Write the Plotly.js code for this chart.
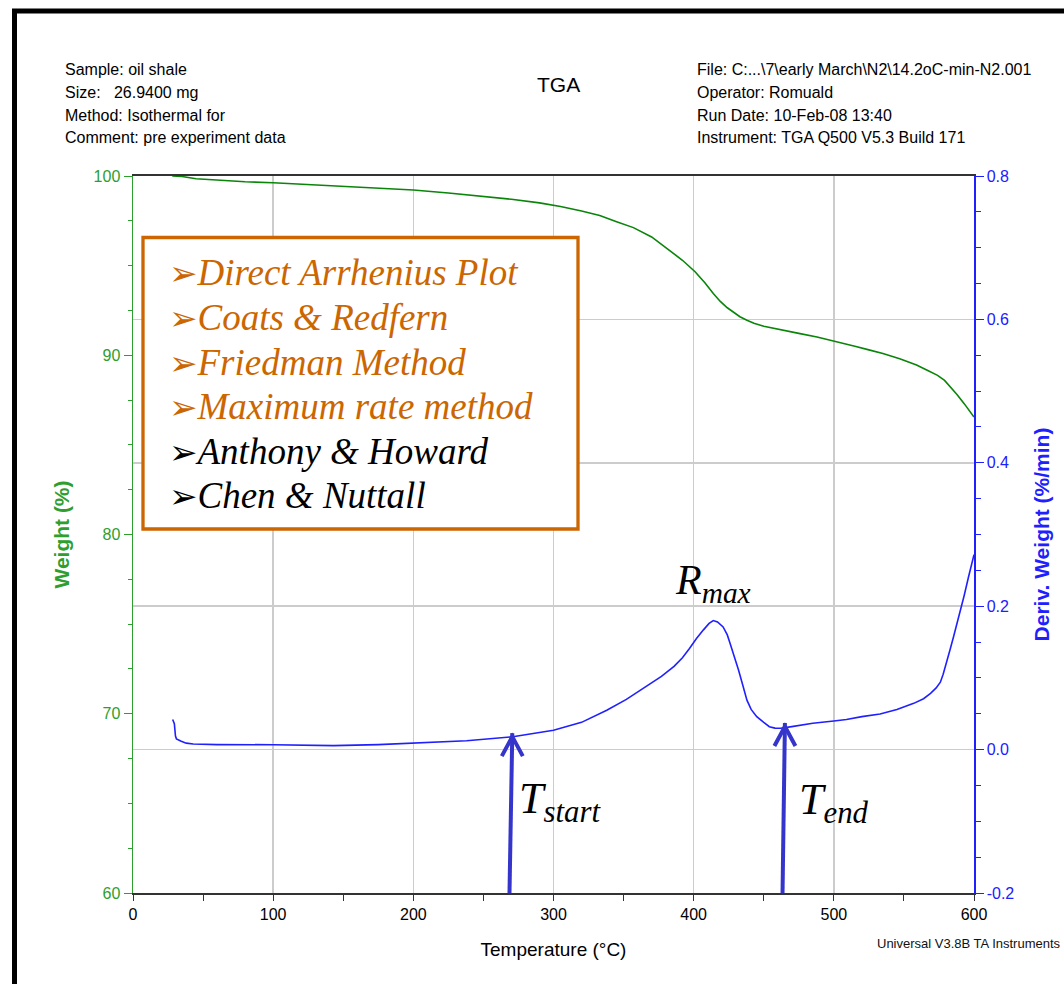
<!DOCTYPE html>
<html><head><meta charset="utf-8">
<script src="https://cdn.plot.ly/plotly-3.0.1.min.js"></script>
<style>html,body{margin:0;padding:0;background:#fff;}#chart{width:1064px;height:984px;}</style>
</head><body><div id="chart"></div>
<script>
// ---- data ----
const weightTemp = [28,35,45,60,80,100,125,150,175,200,225,250,270,290,305,320,333,345,357,370,381,392,401,408,414,419,424,429,433,438,443,450,457,464,475,488,501,515,525,535,547,559,567,574,579,583,588,593,597,600];
const weightPct  = [100.0,99.97,99.85,99.76,99.68,99.62,99.52,99.43,99.33,99.22,99.05,98.87,98.70,98.50,98.30,98.05,97.80,97.45,97.12,96.60,95.97,95.30,94.66,94.05,93.45,93.00,92.65,92.35,92.15,91.95,91.78,91.62,91.50,91.40,91.22,91.02,90.79,90.50,90.30,90.10,89.80,89.46,89.15,88.88,88.60,88.25,87.80,87.30,86.85,86.55];
const derivTemp = [28.3,29.5,30.3,31,34,38,43,60,100,143,175,200,238,271,300,320,338,352,366,377,386,392,397,402,407,411,414,417,421,424,426,429,432,435,438,441,445,450,454,458,462,470,485,500,509,520,533,545,557,564,569,573,576,578,580.5,583,585.5,588,590,593,596,598,600];
const derivVal  = [0.042,0.036,0.019,0.015,0.012,0.009,0.0078,0.007,0.0068,0.0055,0.007,0.0088,0.0124,0.018,0.027,0.038,0.055,0.070,0.088,0.102,0.116,0.128,0.141,0.155,0.167,0.176,0.180,0.178,0.171,0.160,0.148,0.130,0.111,0.090,0.069,0.056,0.046,0.038,0.032,0.030,0.0297,0.032,0.0367,0.040,0.042,0.046,0.0497,0.056,0.0645,0.071,0.0785,0.086,0.094,0.105,0.121,0.140,0.158,0.176,0.190,0.215,0.240,0.255,0.272];

const xTickVals  = [0,100,200,300,400,500,600];
const y1TickVals = [60,70,80,90,100];
const y2TickVals = [-0.2,0,0.2,0.4,0.6,0.8];
const y2TickText = ['-0.2','0.0','0.2','0.4','0.6','0.8'];

const headerLeft  = ['Sample: oil shale','Size:\u00a0\u00a0 26.9400 mg','Method: Isothermal for','Comment: pre experiment data'];
const headerRight = ['File: C:...\\7\\early March\\N2\\14.2oC-min-N2.001','Operator: Romuald','Run Date: 10-Feb-08 13:40','Instrument: TGA Q500 V5.3 Build 171'];
const methods      = ['Direct Arrhenius Plot','Coats & Redfern','Friedman Method','Maximum rate method','Anthony & Howard','Chen & Nuttall'];
const methodColors = ['#cc6600','#cc6600','#cc6600','#cc6600','#000000','#000000'];

// arrows: temperature of tip / tail, derivative value at tip
const arrowTipTemp  = [270.6, 465.1];
const arrowTailTemp = [268.6, 463.4];
const arrowTipDeriv = [0.023, 0.037];
const arrowTailDeriv = -0.2;

// ---- layout helpers (pixel -> paper) ----
const PL=133, PR=974, PT=176, PB=893;
const px = x => (x-PL)/(PR-PL);
const py = y => (PB-y)/(PB-PT);

const SANS = '"Liberation Sans", Arial, sans-serif';
const SERIF = '"Liberation Serif", "Times New Roman", serif';
const GREEN_AX = '#2e9e2e', GREEN_LINE = '#0a850a', BLUE = '#2020ff', ORANGE = '#cc6600', ARROW = '#3535cc';

const traces = [
  {x: weightTemp, y: weightPct, type:'scatter', mode:'lines', yaxis:'y', line:{color:GREEN_LINE, width:1.6}, hoverinfo:'skip', showlegend:false},
  {x: derivTemp, y: derivVal, type:'scatter', mode:'lines', yaxis:'y2', line:{color:BLUE, width:1.6}, hoverinfo:'skip', showlegend:false}
];

const annotations = [];
const headerY = [70, 93, 115.5, 138];
headerLeft.forEach((t,i)=>annotations.push({xref:'paper',yref:'paper',x:px(63),y:py(headerY[i]),xanchor:'left',yanchor:'middle',showarrow:false,text:t,font:{family:SANS,size:16,color:'#000'}}));
headerRight.forEach((t,i)=>annotations.push({xref:'paper',yref:'paper',x:px(695),y:py(headerY[i]),xanchor:'left',yanchor:'middle',showarrow:false,text:t,font:{family:SANS,size:16,color:'#000'}}));
annotations.push({xref:'paper',yref:'paper',x:px(558),y:py(84),xanchor:'center',yanchor:'middle',showarrow:false,text:'TGA',font:{family:SANS,size:21,color:'#000'}});
annotations.push({xref:'paper',yref:'paper',x:px(875),y:py(943),xanchor:'left',yanchor:'middle',showarrow:false,text:'Universal V3.8B TA Instruments',font:{family:SANS,size:13,color:'#111'}});

// method list inside the orange box
const methodBase = [285, 330, 375, 419.3, 464.3, 508.3];
methods.forEach((m,i)=>annotations.push({xref:'paper',yref:'paper',x:px(167),y:py(methodBase[i]-12.5),xanchor:'left',yanchor:'middle',showarrow:false,
  text:'<span style="font-family:DejaVu Sans;font-size:34px">\u27A2</span><i>'+m.replace(/&/g,'&amp;')+'</i>',
  font:{family:SERIF,size:37,color:methodColors[i]}}));

// R_max, T_start, T_end labels
annotations.push({xref:'paper',yref:'paper',x:px(673),y:py(583),xanchor:'left',yanchor:'middle',showarrow:false,text:'<i>R<sub>max</sub></i>',font:{family:SERIF,size:42,color:'#000'}});
annotations.push({xref:'paper',yref:'paper',x:px(517),y:py(801),xanchor:'left',yanchor:'middle',showarrow:false,text:'<i>T<sub>start</sub></i>',font:{family:SERIF,size:44,color:'#000'}});
annotations.push({xref:'paper',yref:'paper',x:px(797),y:py(802),xanchor:'left',yanchor:'middle',showarrow:false,text:'<i>T<sub>end</sub></i>',font:{family:SERIF,size:44,color:'#000'}});

const shapes = [
  // orange method box
  {type:'rect',xref:'paper',yref:'paper',x0:px(143),x1:px(578),y0:py(529),y1:py(237.5),line:{color:ORANGE,width:3.3},fillcolor:'#ffffff',layer:'above'},
  // black slide frame
  {type:'line',xref:'paper',yref:'paper',x0:px(12),x1:px(1064),y0:py(11),y1:py(11),line:{color:'#000',width:5}},
  {type:'line',xref:'paper',yref:'paper',x0:px(14.5),x1:px(14.5),y0:py(9),y1:py(984),line:{color:'#000',width:5}}
];
// arrows: shaft (data coords) + chevron head (pixel-sized, anchored at the tip)
arrowTipTemp.forEach((t,i)=>{
  shapes.push({type:'line',xref:'x',yref:'y2',x0:arrowTailTemp[i],y0:arrowTailDeriv,x1:t,y1:arrowTipDeriv[i],line:{color:ARROW,width:4},layer:'above'});
  shapes.push({type:'path',xref:'x',yref:'y2',xsizemode:'pixel',ysizemode:'pixel',xanchor:t,yanchor:arrowTipDeriv[i],
    path:'M -10.5,-23 L 0,-3.5 L 10.5,-23',line:{color:ARROW,width:4},layer:'above'});
});

const layout = {
  width:1064, height:984,
  margin:{l:PL, r:1064-PR, t:PT, b:984-PB},
  paper_bgcolor:'#fff', plot_bgcolor:'#fff',
  showlegend:false,
  xaxis:{range:[0,600], tickmode:'array', tickvals:xTickVals, ticks:'outside', ticklen:6, tickwidth:1, tickcolor:'#333',
    showline:true, linecolor:'#333', linewidth:2, mirror:true, showgrid:true, gridcolor:'#cccccc', gridwidth:1.5, zeroline:false,
    tickfont:{family:SANS,size:16,color:'#000'},
    minor:{tickmode:'linear', tick0:0, dtick:50, ticks:'outside', ticklen:6, tickcolor:'#333', showgrid:false},
    title:{text:'Temperature (°C)', font:{family:SANS,size:19,color:'#000'}, standoff:20}},
  yaxis:{range:[60,100], tickmode:'array', tickvals:y1TickVals, ticks:'outside', ticklen:8, tickcolor:GREEN_AX,
    showline:true, linecolor:GREEN_AX, linewidth:1.5, showgrid:false, zeroline:false,
    tickfont:{family:SANS,size:16,color:GREEN_AX},
    minor:{tickmode:'linear', tick0:60, dtick:2.5, ticks:'outside', ticklen:4, tickcolor:GREEN_AX, showgrid:false},
    title:{text:'<b>Weight (%)</b>', font:{family:SANS,size:21,color:GREEN_AX}, standoff:18}},
  yaxis2:{range:[-0.2,0.8], overlaying:'y', side:'right', tickmode:'array', tickvals:y2TickVals, ticktext:y2TickText,
    ticks:'outside', ticklen:8, tickcolor:BLUE, showline:true, linecolor:BLUE, linewidth:1.5,
    showgrid:true, gridcolor:'#cccccc', gridwidth:1.5, zeroline:false,
    tickfont:{family:SANS,size:16,color:BLUE},
    minor:{tickmode:'linear', tick0:-0.2, dtick:0.05, ticks:'outside', ticklen:5, tickcolor:BLUE, showgrid:false},
    title:{text:'<b>Deriv. Weight (%/min)</b>', font:{family:SANS,size:21,color:BLUE}, standoff:21}},
  annotations: annotations,
  shapes: shapes
};

Plotly.newPlot('chart', traces, layout, {displayModeBar:false, staticPlot:true});
</script>
</body></html>
